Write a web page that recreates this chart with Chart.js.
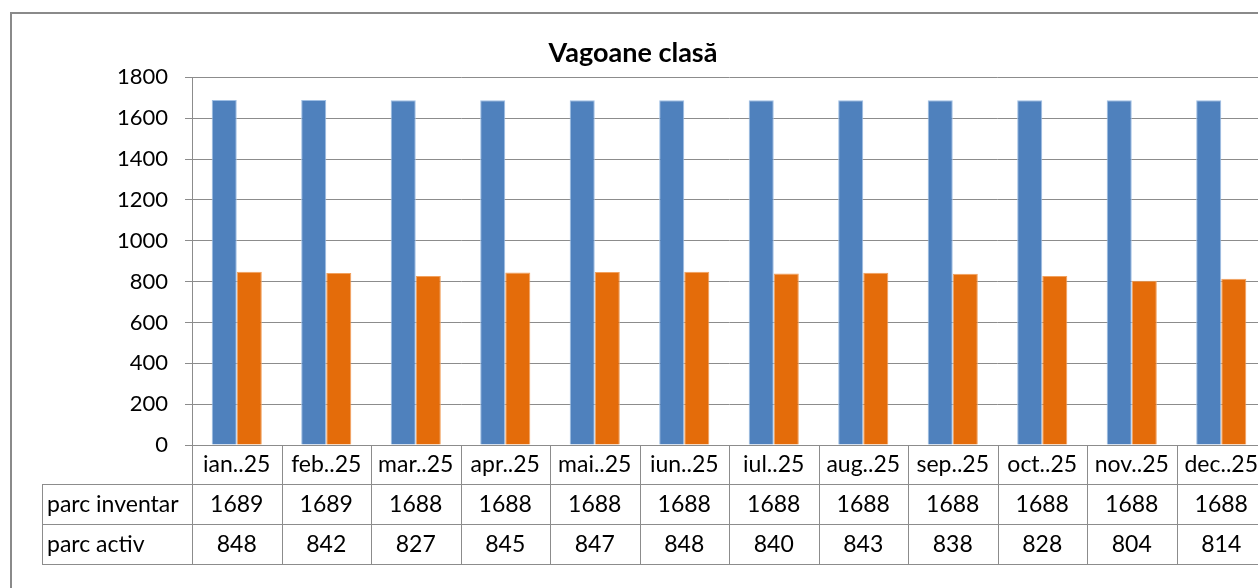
<!DOCTYPE html>
<html>
<head>
<meta charset="utf-8">
<script src="https://cdn.jsdelivr.net/npm/chart.js@4.4.1/dist/chart.umd.min.js"></script>
<style>
  html, body { margin: 0; padding: 0; background: #fff; overflow: hidden; }
  #wrap { position: relative; width: 1258px; height: 588px; overflow: hidden; }
  #frame {
    position: absolute; left: 10px; top: 12px; width: 1400px; height: 700px;
    border: 2px solid #8a8a8a; box-sizing: border-box; pointer-events: none;
  }
  canvas { position: absolute; left: 0; top: 0; }
</style>
</head>
<body>
<div id="wrap">
  <canvas id="chart" width="1280" height="588"></canvas>
  <div id="frame"></div>
</div>
<script>
const months = ['ian..25', 'feb..25', 'mar..25', 'apr..25', 'mai..25', 'iun..25',
                'iul..25', 'aug..25', 'sep..25', 'oct..25', 'nov..25', 'dec..25'];
const parcInventar = [1689, 1689, 1688, 1688, 1688, 1688, 1688, 1688, 1688, 1688, 1688, 1688];
const parcActiv = [848, 842, 827, 845, 847, 848, 840, 843, 838, 828, 804, 814];
const yTicks = [0, 200, 400, 600, 800, 1000, 1200, 1400, 1600, 1800];

const FONT = 'Lato, "Open Sans", sans-serif';
const LINE = '#8c8c8c';

// data table under the x axis, aligned to the category scale
const dataTable = {
  id: 'dataTable',
  afterDraw(chart) {
    const { ctx, chartArea, scales } = chart;
    const x = scales.x;
    const ds = chart.data.datasets;
    const rowH = 40;
    const top = chartArea.bottom;
    const bottom = top + rowH * (ds.length + 1);
    const labelLeft = 42;
    const step = (chartArea.right - chartArea.left) / months.length;

    ctx.save();
    ctx.strokeStyle = LINE;
    ctx.lineWidth = 1;
    ctx.beginPath();
    for (let i = 0; i <= months.length; i++) {
      const px = Math.round(chartArea.left + i * step) + 0.5;
      ctx.moveTo(px, top);
      ctx.lineTo(px, bottom);
    }
    for (let r = 1; r <= ds.length + 1; r++) {
      const py = Math.round(top + r * rowH) - 0.5;
      ctx.moveTo(labelLeft, py);
      ctx.lineTo(chartArea.right, py);
    }
    ctx.moveTo(labelLeft + 0.5, top + rowH - 1);
    ctx.lineTo(labelLeft + 0.5, bottom);
    ctx.stroke();

    ctx.fillStyle = '#000';
    ctx.font = '23px ' + FONT;
    ctx.textBaseline = 'middle';
    ctx.textAlign = 'center';
    months.forEach((m, i) => {
      ctx.fillText(m, x.getPixelForValue(i), top + rowH / 2);
    });
    ds.forEach((d, r) => {
      const cy = top + rowH * (r + 1) + rowH / 2;
      ctx.textAlign = 'left';
      ctx.fillText(d.label, labelLeft + 5, cy);
      ctx.textAlign = 'center';
      d.data.forEach((v, i) => ctx.fillText(String(v), x.getPixelForValue(i), cy));
    });
    ctx.restore();
  }
};

new Chart(document.getElementById('chart'), {
  type: 'bar',
  data: {
    labels: months,
    datasets: [
      {
        label: 'parc inventar',
        data: parcInventar,
        backgroundColor: '#4f81bd',
        borderColor: '#9fbfe4',
        borderWidth: 1
      },
      {
        label: 'parc activ',
        data: parcActiv,
        backgroundColor: '#e46c0a',
        borderColor: '#f2a15e',
        borderWidth: 1
      }
    ]
  },
  options: {
    responsive: false,
    animation: false,
    categoryPercentage: 0.56,
    barPercentage: 1.0,
    layout: { padding: { left: 0, right: 14, top: 0, bottom: 0 } },
    plugins: {
      legend: { display: false },
      tooltip: { enabled: false },
      title: {
        display: true,
        text: 'Vagoane clasă',
        color: '#000',
        font: { family: FONT, size: 27, weight: 'bold' },
        padding: { top: 37, bottom: 8 }
      }
    },
    scales: {
      x: {
        grid: { display: false },
        border: { display: true, color: LINE, width: 1 },
        ticks: { display: false },
        afterFit(scale) { scale.height = 143; }
      },
      y: {
        min: 0,
        max: 1800,
        afterBuildTicks(scale) { scale.ticks = yTicks.map(v => ({ value: v })); },
        grid: { color: LINE, lineWidth: 1, tickLength: 7 },
        border: { display: true, color: LINE, width: 1 },
        ticks: {
          color: '#000',
          padding: 17,
          font: { family: FONT, size: 22 },
          callback: (v) => String(v)
        },
        afterFit(scale) { scale.width = 192; }
      }
    }
  },
  plugins: [dataTable]
});
</script>
</body>
</html>
